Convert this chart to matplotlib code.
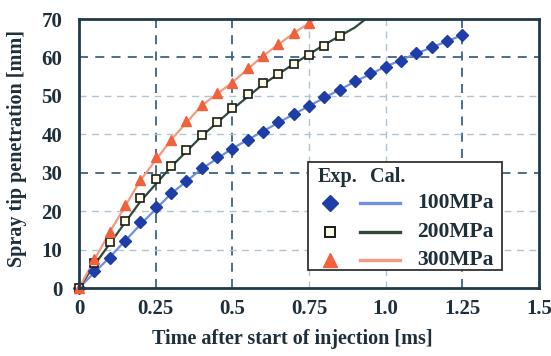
import matplotlib
matplotlib.use("Agg")
import matplotlib.pyplot as plt
from matplotlib.lines import Line2D
from matplotlib.patches import Rectangle

# ---- data ----
t_exp100 = [0, 0.05, 0.1, 0.15, 0.2, 0.25, 0.3, 0.35, 0.4, 0.45, 0.5, 0.55, 0.6, 0.65,
            0.7, 0.75, 0.8, 0.85, 0.9, 0.95, 1.0, 1.05, 1.1, 1.15, 1.2, 1.25]
exp100 = [0, 4.5, 7.8, 12.2, 17.1, 21.0, 24.8, 27.9, 31.3, 34.0, 36.1, 38.5, 40.7, 43.1,
          45.3, 47.4, 49.6, 51.5, 53.9, 55.9, 57.6, 59.2, 61.1, 62.6, 64.3, 65.8]

t_exp200 = [0, 0.05, 0.1, 0.15, 0.2, 0.25, 0.3, 0.35, 0.4, 0.45, 0.5, 0.55, 0.6, 0.65,
            0.7, 0.75, 0.8, 0.85]
exp200 = [0, 6.5, 12.0, 17.5, 23.5, 28.3, 31.8, 35.8, 39.8, 43.3, 46.8, 50.5, 53.3, 55.8,
          58.3, 60.7, 63.0, 65.5]

t_exp300 = [0, 0.05, 0.1, 0.15, 0.2, 0.25, 0.3, 0.35, 0.4, 0.45, 0.5, 0.55, 0.6, 0.65,
            0.7, 0.75]
exp300 = [0, 7.5, 14.5, 21.5, 28.0, 34.0, 38.5, 43.5, 47.5, 50.7, 53.3, 57.3, 60.4, 63.5,
          66.3, 69.0]

t_cal100 = [0, 0.1, 0.2, 0.3, 0.4, 0.5, 0.6, 0.7, 0.8, 0.9, 1.0, 1.1, 1.2, 1.25]
cal100 = [0, 8.0, 16.5, 24.5, 31.0, 36.3, 40.8, 45.2, 49.5, 53.7, 57.6, 61.0, 64.2, 65.8]

t_cal200 = [0, 0.05, 0.1, 0.2, 0.3, 0.4, 0.5, 0.6, 0.7, 0.8, 0.9, 0.94]
cal200 = [0, 6.0, 11.5, 22.5, 31.5, 39.5, 46.5, 53.0, 58.3, 63.3, 67.8, 70.3]

t_cal300 = [0, 0.1, 0.2, 0.3, 0.4, 0.5, 0.6, 0.7, 0.8]
cal300 = [0, 14.5, 28.0, 38.5, 47.5, 53.5, 60.4, 66.3, 71.5]

xticks = [0, 0.25, 0.5, 0.75, 1.0, 1.25, 1.5]
xticklabels = ["0", "0.25", "0.5", "0.75", "1.0", "1.25", "1.5"]
yticks = [0, 10, 20, 30, 40, 50, 60, 70]
series_labels = ["100MPa", "200MPa", "300MPa"]

# ---- styles ----
c_blue_m = "#1e3da6"
c_blue_l = "#6f8fe0"
c_green_l = "#2f4a3a"
c_red_m = "#f2603c"
c_red_l = "#f59a80"
spine_c = "#1f3b48"
text_c = "#1f2f3a"
font = "Liberation Serif"

plt.rcParams["font.family"] = [font, "DejaVu Serif"]

fig = plt.figure(figsize=(5.51, 3.56), dpi=100)
ax = fig.add_axes([0.1434, 0.191, 0.978 - 0.1434, 0.9466 - 0.191])

# grid
strong = dict(color="#3d6584", lw=1.3, ls=(0, (5, 4)), zorder=1)
weak = dict(color="#b3c5d3", lw=1.0, ls=(0, (5, 4)), zorder=1)
for xv in xticks[1:-1]:
    ax.axvline(xv, **(strong if xv in (0.25, 0.5, 1.25) else weak))
for yv in yticks[1:-1]:
    ax.axhline(yv, **(strong if yv in (30, 60) else weak))

# calculated lines
ax.plot(t_cal100, cal100, color=c_blue_l, lw=1.6, zorder=2)
ax.plot(t_cal200, cal200, color=c_green_l, lw=1.6, zorder=2)
ax.plot(t_cal300, cal300, color=c_red_l, lw=1.6, zorder=2)

# experimental markers
ax.plot(t_exp100, exp100, ls="none", marker="D", ms=6.3, mfc=c_blue_m, mec=c_blue_m,
        zorder=3, clip_on=False)
ax.plot(t_exp200, exp200, ls="none", marker="s", ms=6.0, mfc="#fbfbe6", mec="#1a1a1a",
        mew=1.2, zorder=3, clip_on=False)
ax.plot(t_exp300, exp300, ls="none", marker="^", ms=7.5, mfc=c_red_m, mec=c_red_m,
        zorder=3, clip_on=False)

ax.set_xlim(0, 1.5)
ax.set_ylim(0, 70)
ax.set_xticks(xticks)
ax.set_xticklabels(xticklabels)
ax.set_yticks(yticks)
ax.tick_params(length=0, labelsize=15, labelcolor=text_c)
ax.tick_params(axis="x", pad=8)
ax.tick_params(axis="y", pad=12)
for lab in ax.get_xticklabels() + ax.get_yticklabels():
    lab.set_fontweight("bold")
for s in ax.spines.values():
    s.set_color(spine_c)
    s.set_linewidth(2.0)
    s.set_zorder(4)

ax.set_xlabel("Time after start of injection [ms]", fontsize=14.5, fontweight="bold",
              color=text_c)
ax.set_ylabel("Spray tip penetration [mm]", fontsize=14.5, fontweight="bold",
              color=text_c)
ax.xaxis.set_label_coords(0.463, -0.153)
ax.yaxis.set_label_coords(-0.113, 0.52)

# ---- legend drawn by hand (Exp. / Cal. columns) ----
T = ax.transAxes
ax.add_patch(Rectangle((0.498, 0.067), 0.422, 0.401, transform=T, facecolor="white",
                       edgecolor="#333333", lw=1.3, zorder=5, clip_on=False))
ax.text(0.518, 0.413, "Exp.", transform=T, fontsize=14.5, fontweight="bold",
        color=text_c, va="center", ha="left", zorder=6)
ax.text(0.632, 0.413, "Cal.", transform=T, fontsize=14.5, fontweight="bold",
        color=text_c, va="center", ha="left", zorder=6)
leg_markers = [
    dict(marker="D", ms=8, mfc=c_blue_m, mec=c_blue_m),
    dict(marker="s", ms=7.5, mfc="#fbfbe6", mec="#1a1a1a", mew=1.4),
    dict(marker="^", ms=9.5, mfc=c_red_m, mec=c_red_m),
]
leg_lines = [c_blue_l, c_green_l, c_red_l]
row_y = [0.316, 0.208, 0.105]
for ry, mk, lc, lab in zip(row_y, leg_markers, leg_lines, series_labels):
    ax.add_line(Line2D([0.546], [ry], ls="none", transform=T, zorder=6, **mk))
    ax.add_line(Line2D([0.611, 0.698], [ry, ry], color=lc, lw=2.4, transform=T,
                       zorder=6))
    ax.text(0.735, ry, lab, transform=T, fontsize=15.5, fontweight="bold",
            color=text_c, va="center", ha="left", zorder=6)

fig.savefig("out.png", dpi=100)
